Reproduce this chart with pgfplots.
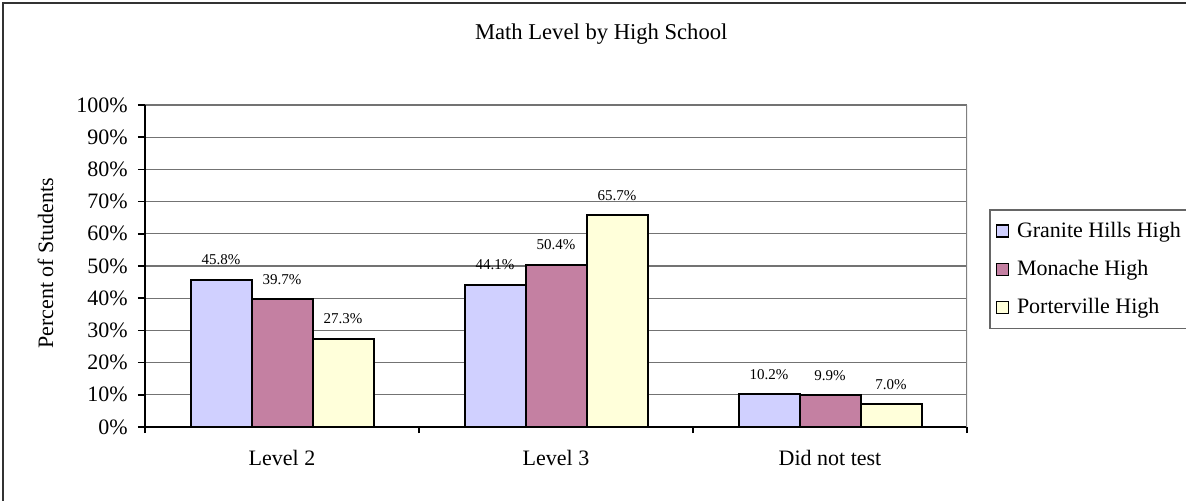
\documentclass[border=0pt]{standalone}
\usepackage{fontspec}
\setmainfont{Liberation Serif}
\usepackage{pgfplots}
\pgfplotsset{compat=1.18}
\definecolor{cBlue}{RGB}{208,208,255}
\definecolor{cRed}{RGB}{196,128,162}
\definecolor{cYel}{RGB}{255,255,218}
\begin{document}
\begin{tikzpicture}[x=1pt,y=1pt]
\path[use as bounding box, clip] (0,0) rectangle (593,-250);
\draw[line width=1pt, black!80] (1.5,-1.5) rectangle (620,-270);
\begin{axis}[
  at={(72.5pt,-213.5pt)}, anchor=south west,
  scale only axis, width=411pt, height=161pt,
  xmin=-0.5, xmax=2.5, ymin=0, ymax=100,
  ybar=0pt, bar width=30.5pt,
  axis x line*=bottom, axis y line*=left,
  axis line style={-, line width=0.8pt, black},
  xtick={0,1,2}, xticklabels={Level 2, Level 3, Did not test},
  major x tick style={draw=none},
  minor xtick={-0.5,0.5,1.5,2.5},
  minor x tick style={black, line width=0.8pt},
  minor tick length=3pt,
  ytick={0,10,...,100},
  yticklabels={0\%,10\%,20\%,30\%,40\%,50\%,60\%,70\%,80\%,90\%,100\%},
  tick align=outside, major tick length=3.5pt,
  major y tick style={black, line width=0.8pt},
  ymajorgrids, grid style={black!55, line width=0.6pt},
  tick label style={font=\fontsize{11}{13}\selectfont},
  yticklabel style={anchor=east, inner sep=0pt, xshift=-5pt},
  xticklabel style={anchor=base, yshift=-15.5pt},
  title={Math Level by High School},
  title style={at={(0.555,1.183)}, anchor=center, font=\fontsize{11.3}{13}\selectfont},
  ylabel={Percent of Students},
  ylabel style={at={(-0.121,0.509)}, anchor=center, font=\fontsize{11}{13}\selectfont},
  point meta=explicit symbolic,
  nodes near coords,
  every node near coord/.append style={font=\fontsize{7.5}{9}\selectfont, anchor=center, yshift=10pt, black},
  legend style={at={(1,0.677)}, anchor=north west, xshift=11pt, draw=black!60, line width=0.8pt,
    font=\fontsize{11}{13}\selectfont, row sep=6pt, inner ysep=4pt,
    nodes={inner xsep=4pt}},
  legend cell align=left,
  every axis plot post/.append style={legend image code/.code={\draw[#1, line width=0.6pt] (0pt,-3pt) rectangle (6pt,3pt);}},
]
\addplot[fill=cBlue, draw=black, line width=1pt] coordinates {(0,45.8) [45.8\%] (1,44.1) [44.1\%] (2,10.2) [10.2\%]};
\addplot[fill=cRed, draw=black, line width=1pt] coordinates {(0,39.7) [39.7\%] (1,50.4) [50.4\%] (2,9.9) [9.9\%]};
\addplot[fill=cYel, draw=black, line width=1pt] coordinates {(0,27.3) [27.3\%] (1,65.7) [65.7\%] (2,7.0) [7.0\%]};
\legend{Granite Hills High, Monache High, Porterville High}
\draw[black!50, line width=0.8pt] (rel axis cs:1,0) -- (rel axis cs:1,1);
\end{axis}
\end{tikzpicture}
\end{document}
